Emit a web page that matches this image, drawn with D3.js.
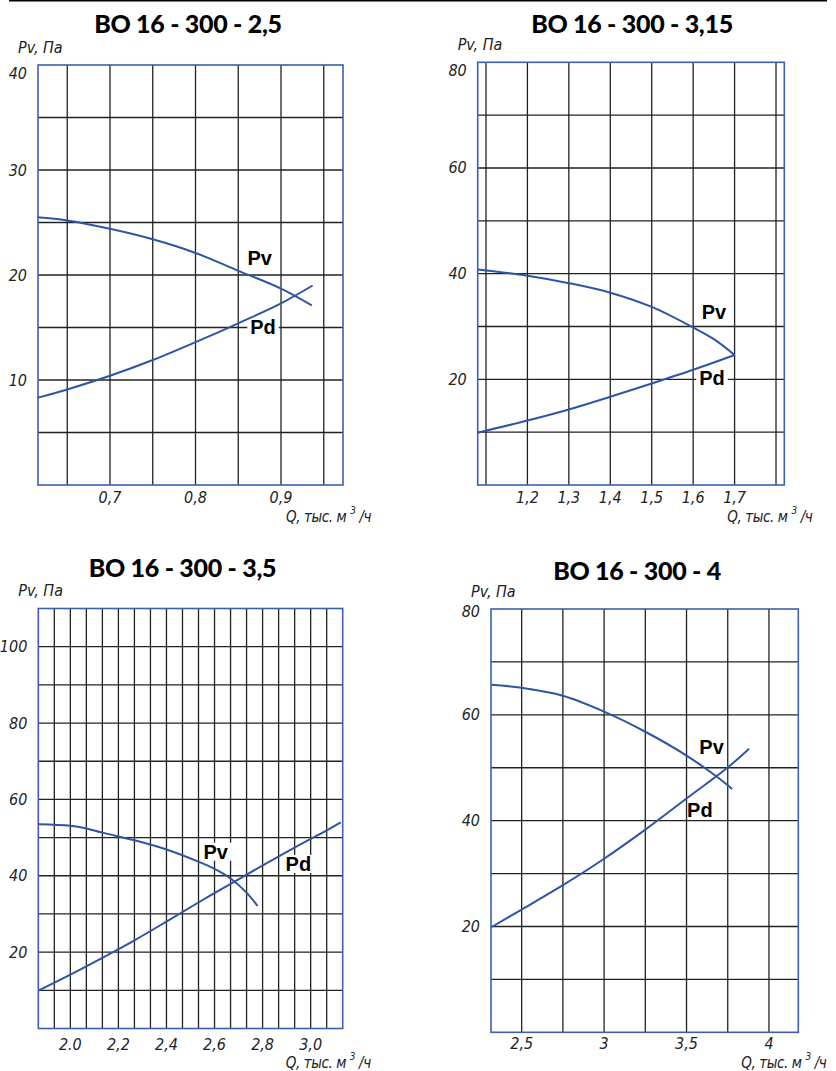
<!DOCTYPE html>
<html>
<head>
<meta charset="utf-8">
<script src="https://cdn.jsdelivr.net/npm/d3@7"></script>
<style>
  body { margin: 0; background: #fff; }
  svg { display: block; }
  .grid line { stroke: #222; stroke-width: 1.3; }
  .frame { fill: none; stroke: #3d5fb0; stroke-width: 1.6; }
  .curve { fill: none; stroke: #2f54a6; stroke-width: 2; }
  .title { font-family: Lato, "Open Sans", sans-serif; font-weight: 900; font-size: 25px; fill: #000; letter-spacing: -0.3px; }
  .thin { font-family: "Liberation Sans Narrow", "DejaVu Sans Condensed", sans-serif; font-style: italic; font-size: 16px; fill: #222; }
  .qtitle { font-size: 15px; letter-spacing: -0.4px; }
  .clabel { font-family: "Liberation Sans Narrow", "Liberation Sans", sans-serif; font-weight: 700; font-size: 20px; fill: #000; }
</style>
</head>
<body>
<svg id="chart" width="836" height="1071"></svg>
<script>
// chart titles
const titles = ["ВО 16 - 300 - 2,5", "ВО 16 - 300 - 3,15", "ВО 16 - 300 - 3,5", "ВО 16 - 300 - 4"];

// Pv and Pd curves, [Q (тыс. м3/ч), P (Па)]
const pv1 = [[0.615, 25.5], [0.65, 25.2], [0.7, 24.4], [0.75, 23.4], [0.8, 22.1], [0.85, 20.4], [0.9, 18.7], [0.936, 17.1]];
const pd1 = [[0.615, 8.3], [0.65, 9.1], [0.7, 10.4], [0.75, 11.9], [0.8, 13.6], [0.85, 15.4], [0.9, 17.3], [0.937, 19.0]];
const pv2 = [[1.08, 40.8], [1.2, 39.6], [1.3, 38.2], [1.4, 36.4], [1.5, 33.7], [1.6, 29.8], [1.65, 27.6], [1.7, 24.6]];
const pd2 = [[1.08, 9.9], [1.2, 12.2], [1.3, 14.3], [1.4, 16.7], [1.5, 19.2], [1.6, 21.8], [1.7, 24.6]];
const pv3 = [[1.867, 53.5], [2.0, 53.1], [2.067, 52.4], [2.133, 51.3], [2.267, 49.3], [2.4, 46.9], [2.533, 43.7], [2.6, 41.8], [2.667, 39.3], [2.733, 35.6], [2.779, 32.1]];
const pd3 = [[1.867, 9.9], [2.0, 14.1], [2.133, 18.5], [2.267, 23.1], [2.4, 28.0], [2.533, 33.0], [2.667, 37.9], [2.8, 42.7], [2.933, 47.4], [3.067, 51.9], [3.125, 54.0]];
const pv4 = [[2.318, 65.7], [2.5, 65.1], [2.75, 63.6], [3.0, 60.6], [3.25, 56.8], [3.5, 52.3], [3.68, 48.4], [3.777, 46.0]];
const pd4 = [[2.318, 19.9], [2.5, 23.2], [2.75, 27.8], [3.0, 32.8], [3.25, 38.3], [3.5, 44.2], [3.74, 49.8], [3.88, 53.6]];

// tick values and labels
const xTicks1 = [0.7, 0.8, 0.9], xLabels1 = ["0,7", "0,8", "0,9"];
const yTicks1 = [10, 20, 30, 40];
const xTicks2 = [1.2, 1.3, 1.4, 1.5, 1.6, 1.7], xLabels2 = ["1,2", "1,3", "1,4", "1,5", "1,6", "1,7"];
const yTicks2 = [20, 40, 60, 80];
const xTicks3 = [2.0, 2.2, 2.4, 2.6, 2.8, 3.0], xLabels3 = ["2.0", "2,2", "2,4", "2,6", "2,8", "3,0"];
const yTicks3 = [20, 40, 60, 80, 100];
const xTicks4 = [2.5, 3, 3.5, 4], xLabels4 = ["2,5", "3", "3,5", "4"];
const yTicks4 = [20, 40, 60, 80];

// curve label anchors [Q, P]
const lab1 = {pv: [0.875, 21.6], pd: [0.879, 15.05]};
const lab2 = {pv: [1.650, 32.8], pd: [1.6455, 20.2]};
const lab3 = {pv: [2.605, 46.3], pd: [2.949, 43.1]};
const lab4 = {pv: [3.652, 54.0], pd: [3.581, 42.0]};

const svg = d3.select("#chart");

// top rule
svg.append("line")
    .attr("x1", 9).attr("x2", 827)
    .attr("y1", 0.8).attr("y2", 0.8)
    .attr("stroke", "#000").attr("stroke-width", 1.6);

const panels = [
    {title: titles[0], tx: 188, ty: 33, box: [38, 343, 65, 485], xd: [0.6158, 0.9725], yd: [0, 40], xs: 0.05, ys: 5,
     pv: pv1, pd: pd1, xt: xTicks1, xl: xLabels1, yt: yTicks1, lab: lab1, bgPv: false, bgPd: true, topShift: 8, xlOff: 12, qOff: 32},
    {title: titles[1], tx: 632, ty: 33, box: [477.7, 784.3, 62.3, 485], xd: [1.08, 1.82], yd: [0, 80], xs: 0.1, ys: 10,
     pv: pv2, pd: pd2, xt: xTicks2, xl: xLabels2, yt: yTicks2, lab: lab2, bgPv: false, bgPd: true, topShift: 8, xlOff: 12, qOff: 32},
    {title: titles[2], tx: 182.5, ty: 577, box: [38.3, 342.7, 608.5, 1028.5], xd: [28 / 15, 47 / 15], yd: [0, 110], xs: 1 / 15, ys: 10,
     pv: pv3, pd: pd3, xt: xTicks3, xl: xLabels3, yt: yTicks3, lab: lab3, bgPv: true, bgPd: true, topShift: 0, xlOff: 15.5, qOff: 34},
    {title: titles[3], tx: 637, ty: 580, box: [491, 798.3, 609, 1032.3], xd: [2.314, 4.178], yd: [0, 80], xs: 0.25, ys: 10,
     pv: pv4, pd: pd4, xt: xTicks4, xl: xLabels4, yt: yTicks4, lab: lab4, bgPv: false, bgPd: false, topShift: 2, xlOff: 11, qOff: 30.5}
];

function gridValues(domain, step) {
    let out = [],
        i0 = Math.ceil(domain[0] / step - 1e-6),
        i1 = Math.floor(domain[1] / step + 1e-6);
    for (let i = i0; i <= i1; i++) {
        let v = i * step;
        if (Math.abs(v - domain[0]) > step * 0.1 && Math.abs(v - domain[1]) > step * 0.1) out.push(v);
    }
    return out;
}

function drawPanel(p) {
    let [left, right, top, bottom] = p.box,
        x = d3.scaleLinear().domain(p.xd).range([left, right]),
        y = d3.scaleLinear().domain(p.yd).range([bottom, top]),
        g = svg.append("g").attr("class", "panel");

    // grid
    let grid = g.append("g").attr("class", "grid");
    grid.selectAll("line.v")
        .data(gridValues(p.xd, p.xs))
        .enter().append("line")
        .attr("class", "v")
        .attr("x1", d => x(d)).attr("x2", d => x(d))
        .attr("y1", top).attr("y2", bottom);
    grid.selectAll("line.h")
        .data(gridValues(p.yd, p.ys))
        .enter().append("line")
        .attr("class", "h")
        .attr("x1", left).attr("x2", right)
        .attr("y1", d => y(d)).attr("y2", d => y(d));

    g.append("rect")
        .attr("class", "frame")
        .attr("x", left).attr("y", top)
        .attr("width", right - left).attr("height", bottom - top);

    // white patches behind some labels: above grid, under curves
    let bgs = g.append("g").attr("class", "label-bg");

    // curves
    let line = d3.line()
        .x(d => x(d[0]))
        .y(d => y(d[1]))
        .curve(d3.curveCatmullRom.alpha(0.5));
    g.append("path").attr("class", "curve").attr("d", line(p.pv));
    g.append("path").attr("class", "curve").attr("d", line(p.pd));

    // curve labels
    [["Pv", p.lab.pv, p.bgPv], ["Pd", p.lab.pd, p.bgPd]].forEach(([txt, pos, bg]) => {
        let t = g.append("text")
            .attr("class", "clabel")
            .attr("x", x(pos[0])).attr("y", y(pos[1]))
            .attr("text-anchor", "middle")
            .attr("dominant-baseline", "central")
            .text(txt);
        if (bg) {
            let b = t.node().getBBox();
            bgs.append("rect")
                .attr("x", b.x - 3).attr("y", b.y + 2)
                .attr("width", b.width + 6).attr("height", b.height - 4)
                .attr("fill", "#fff");
        }
    });

    // y tick labels
    g.selectAll("text.ytick")
        .data(p.yt)
        .enter().append("text")
        .attr("class", "thin ytick")
        .attr("x", left - 11)
        .attr("y", d => y(d) + (d === p.yd[1] ? p.topShift : 0))
        .attr("text-anchor", "end")
        .attr("dominant-baseline", "central")
        .text(d => d);

    // x tick labels
    g.selectAll("text.xtick")
        .data(p.xt)
        .enter().append("text")
        .attr("class", "thin xtick")
        .attr("x", d => x(d))
        .attr("y", bottom + p.xlOff)
        .attr("text-anchor", "middle")
        .attr("dominant-baseline", "central")
        .text((d, i) => p.xl[i]);

    // axis titles
    g.append("text")
        .attr("class", "thin")
        .attr("x", left - 20).attr("y", top - 18)
        .attr("dominant-baseline", "central")
        .text("Pv, Па");
    let q = g.append("text")
        .attr("class", "thin qtitle")
        .attr("x", right - 57).attr("y", bottom + p.qOff)
        .attr("dominant-baseline", "central");
    q.append("tspan").text("Q, тыс. м ");
    q.append("tspan").attr("dy", -7).attr("font-size", "10px").text("3");
    q.append("tspan").attr("dy", 7).text(" /ч");

    g.append("text")
        .attr("class", "title")
        .attr("x", p.tx).attr("y", p.ty)
        .attr("text-anchor", "middle")
        .text(p.title);
}

panels.forEach(drawPanel);
</script>
</body>
</html>
